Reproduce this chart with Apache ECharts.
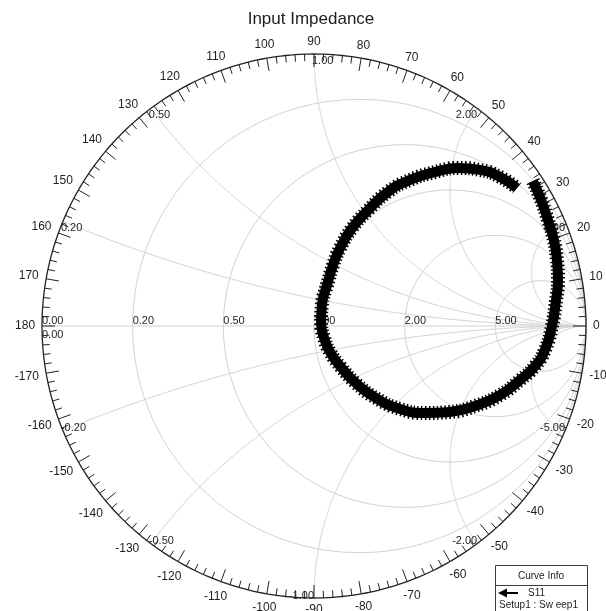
<!DOCTYPE html>
<html>
<head>
<meta charset="utf-8">
<title>Input Impedance</title>
<script src="https://cdn.jsdelivr.net/npm/echarts@6/dist/echarts.min.js"></script>
<style>
  html, body { margin: 0; padding: 0; background: #ffffff; }
  #chart { width: 606px; height: 611px; }
</style>
</head>
<body>
<div id="chart"></div>
<script>
// S11 reflection coefficient, real and imaginary parts along the sweep
const s11Re = [0.805, 0.835, 0.860, 0.882, 0.893, 0.897, 0.890, 0.875, 0.849, 0.813,
               0.757, 0.684, 0.592, 0.500, 0.408, 0.316, 0.228, 0.154, 0.099, 0.059,
               0.037, 0.026, 0.029, 0.048, 0.070, 0.096, 0.140, 0.199, 0.272, 0.353,
               0.445, 0.529, 0.610, 0.684, 0.746];
const s11Im = [0.533, 0.463, 0.390, 0.316, 0.243, 0.169, 0.096, 0.000, -0.088, -0.147,
               -0.199, -0.254, -0.294, -0.316, -0.320, -0.305, -0.265, -0.210, -0.151, -0.096,
               -0.044, 0.015, 0.077, 0.151, 0.224, 0.287, 0.360, 0.426, 0.493, 0.537,
               0.566, 0.581, 0.574, 0.548, 0.507];

// Normalised impedance grid
const resistanceValues = [0.2, 0.5, 1, 2, 5];
const resistanceLabels = ['0.20', '0.50', '1.00', '2.00', '5.00'];
const reactanceValues = [0.2, 0.5, 1, 2, 5, -0.2, -0.5, -1, -2, -5];
const reactanceLabels = ['0.20', '0.50', '1.00', '2.00', '5.00', '-0.20', '-0.50', '-1.00', '-2.00', '-5.00'];

// Angle scale around the rim (degrees)
const angleTickLabels = [0, 10, 20, 30, 40, 50, 60, 70, 80, 90, 100, 110, 120, 130, 140, 150, 160, 170, 180,
                         -170, -160, -150, -140, -130, -120, -110, -100, -90, -80, -70, -60, -50, -40, -30, -20, -10];

const FONT_FAMILY = 'Arial, "Liberation Sans", sans-serif';
const GRID_COLOR = '#d2d2d2';
const TEXT_COLOR = '#1e1e1e';

// ---------- geometry helpers ----------
function gammaOf(r, x) {
  // (z - 1) / (z + 1) with z = r + jx
  const a = r - 1, c = r + 1, b = x;
  const den = c * c + b * b;
  return [(a * c + b * b) / den, (b * c - a * b) / den];
}
function circlePoints(cx, cy, rad, n) {
  const pts = [];
  for (let i = 0; i <= n; i++) {
    const t = (i / n) * Math.PI * 2;
    pts.push([cx + rad * Math.cos(t), cy + rad * Math.sin(t)]);
  }
  return pts;
}
function reactancePoints(x) {
  const pts = [];
  const n = 400;
  for (let i = 0; i < n; i++) {
    const r = Math.tan((i / n) * Math.PI / 2);
    pts.push(gammaOf(r, x));
  }
  pts.push([1, 0]);
  return pts;
}

// Grid polylines (in reflection-coefficient coordinates)
const gridLines = [];
gridLines.push([[-1, 0], [1, 0]]);
resistanceValues.forEach(r => gridLines.push(circlePoints(r / (1 + r), 0, 1 / (1 + r), 240)));
reactanceValues.forEach(x => gridLines.push(reactancePoints(x)));

// Rim tick marks every 2 degrees, longer each 10 degrees
const rimTicks = [];
for (let d = -178; d <= 180; d += 2) rimTicks.push({ deg: d, major: d % 10 === 0 });

// Text labels placed on the chart
const textItems = [];
// resistance values along the real axis
resistanceValues.forEach((r, i) => {
  textItems.push({ p: [(r - 1) / (r + 1), 0], text: resistanceLabels[i], align: 'left', vAlign: 'bottom', dx: 0, dy: 0, size: 11 });
});
// zero labels at the left end of the real axis
textItems.push({ p: [-1, 0], text: '0.00', align: 'left', vAlign: 'bottom', dx: 0, dy: 0, size: 11 });
textItems.push({ p: [-1, 0], text: '0.00', align: 'left', vAlign: 'top', dx: 0, dy: 3, size: 11 });
// reactance values on the rim
reactanceValues.forEach((x, i) => {
  const p = gammaOf(0, x);
  const left = p[0] < -0.01 || Math.abs(x - 1) < 1e-9;
  const upper = x > 0;
  textItems.push({
    p: p, text: reactanceLabels[i],
    align: left ? 'left' : 'right',
    vAlign: upper ? 'top' : 'bottom',
    dx: left ? -2 : 0,
    dy: upper ? 1 : 3,
    size: 11
  });
});

function labelWidth(txt) {
  let w = 0;
  for (const ch of txt) w += (ch === '-') ? 4 : 6.6;
  return w;
}

// ---------- chart ----------
const chart = echarts.init(document.getElementById('chart'), null, { renderer: 'canvas' });
const s11Points = s11Re.map((v, i) => [v, s11Im[i]]);

const option = {
  backgroundColor: '#ffffff',
  animation: false,
  grid: { left: 42, top: 54, width: 544, height: 544, show: false },
  xAxis: { type: 'value', min: -1, max: 1, show: false },
  yAxis: { type: 'value', min: -1, max: 1, show: false },
  graphic: [
    {
      type: 'text', x: 311, y: 19, z: 10,
      style: { text: 'Input Impedance', font: '17px ' + FONT_FAMILY, fill: TEXT_COLOR, align: 'center', verticalAlign: 'middle' }
    },
    // Curve Info box
    { type: 'rect', z: 10, shape: { x: 495.5, y: 565.5, width: 92, height: 60 }, style: { fill: '#ffffff', stroke: '#3a3a3a', lineWidth: 1 } },
    { type: 'line', z: 10, shape: { x1: 495.5, y1: 585.5, x2: 587.5, y2: 585.5 }, style: { stroke: '#3a3a3a', lineWidth: 1 } },
    {
      type: 'text', x: 541, y: 576, z: 11,
      style: { text: 'Curve Info', font: '10px ' + FONT_FAMILY, fill: TEXT_COLOR, align: 'center', verticalAlign: 'middle' }
    },
    { type: 'line', z: 11, shape: { x1: 505, y1: 593, x2: 518, y2: 593 }, style: { stroke: '#000000', lineWidth: 2 } },
    { type: 'polygon', z: 11, shape: { points: [[498, 593], [507, 588.5], [507, 597.5]] }, style: { fill: '#000000' } },
    {
      type: 'text', x: 528, y: 593, z: 11,
      style: { text: 'S11', font: '10px ' + FONT_FAMILY, fill: TEXT_COLOR, align: 'left', verticalAlign: 'middle' }
    },
    {
      type: 'text', x: 499, y: 605, z: 11,
      style: { text: 'Setup1 : Sw eep1', font: '10px ' + FONT_FAMILY, fill: TEXT_COLOR, align: 'left', verticalAlign: 'middle' }
    }
  ],
  series: [
    {
      // constant resistance / reactance grid
      type: 'custom',
      z: 1,
      silent: true,
      clip: false,
      data: gridLines.map(() => [0, 0]),
      renderItem: function (params, api) {
        const pts = gridLines[params.dataIndex].map(p => api.coord(p));
        return { type: 'polyline', shape: { points: pts }, style: { stroke: GRID_COLOR, lineWidth: 1, fill: null } };
      }
    },
    {
      // outer rim with angle ticks and labels
      type: 'custom',
      z: 3,
      silent: true,
      clip: false,
      data: [[0, 0]],
      renderItem: function (params, api) {
        const c = api.coord([0, 0]);
        const R = api.coord([1, 0])[0] - c[0];
        const children = [];
        const rim = circlePoints(0, 0, 1, 360).map(p => api.coord(p));
        children.push({ type: 'polyline', shape: { points: rim }, style: { stroke: '#222222', lineWidth: 1.3, fill: null } });
        rimTicks.forEach(t => {
          const a = t.deg * Math.PI / 180;
          const len = t.major ? 13 : 7;
          const ca = Math.cos(a), sa = Math.sin(a);
          children.push({
            type: 'line',
            shape: { x1: c[0] + R * ca, y1: c[1] - R * sa, x2: c[0] + (R - len) * ca, y2: c[1] - (R - len) * sa },
            style: { stroke: '#222222', lineWidth: 1 }
          });
        });
        angleTickLabels.forEach(d => {
          const a = d * Math.PI / 180;
          const ca = Math.cos(a), sa = Math.sin(a);
          const txt = String(d);
          const w = labelWidth(txt);
          const h = 10;
          const dist = R + 7 + (w / 2) * Math.abs(ca) + (h / 2) * Math.abs(sa);
          children.push({
            type: 'text',
            x: c[0] + dist * ca,
            y: c[1] - dist * sa,
            style: { text: txt, font: '12px ' + FONT_FAMILY, fill: TEXT_COLOR, align: 'center', verticalAlign: 'middle' }
          });
        });
        return { type: 'group', children: children };
      }
    },
    {
      // grid value labels
      type: 'custom',
      z: 2,
      silent: true,
      clip: false,
      data: textItems.map(() => [0, 0]),
      renderItem: function (params, api) {
        const t = textItems[params.dataIndex];
        const p = api.coord(t.p);
        return {
          type: 'text',
          x: p[0] + t.dx,
          y: p[1] + t.dy,
          style: { text: t.text, font: t.size + 'px ' + FONT_FAMILY, fill: TEXT_COLOR, align: t.align, verticalAlign: t.vAlign }
        };
      }
    },
    {
      // solid core of the trace
      name: 'S11',
      type: 'line',
      z: 5,
      smooth: 0.5,
      showSymbol: false,
      clip: false,
      data: s11Points,
      lineStyle: { color: '#000000', width: 10, cap: 'butt', join: 'round' }
    },
    {
      // ragged marker edge of the trace
      name: 'S11',
      type: 'line',
      z: 5,
      smooth: 0.5,
      showSymbol: false,
      clip: false,
      data: s11Points,
      lineStyle: { color: '#000000', width: 14, type: [1.5, 2.5], cap: 'butt', join: 'round' }
    }
  ]
};

chart.setOption(option);
</script>
</body>
</html>
